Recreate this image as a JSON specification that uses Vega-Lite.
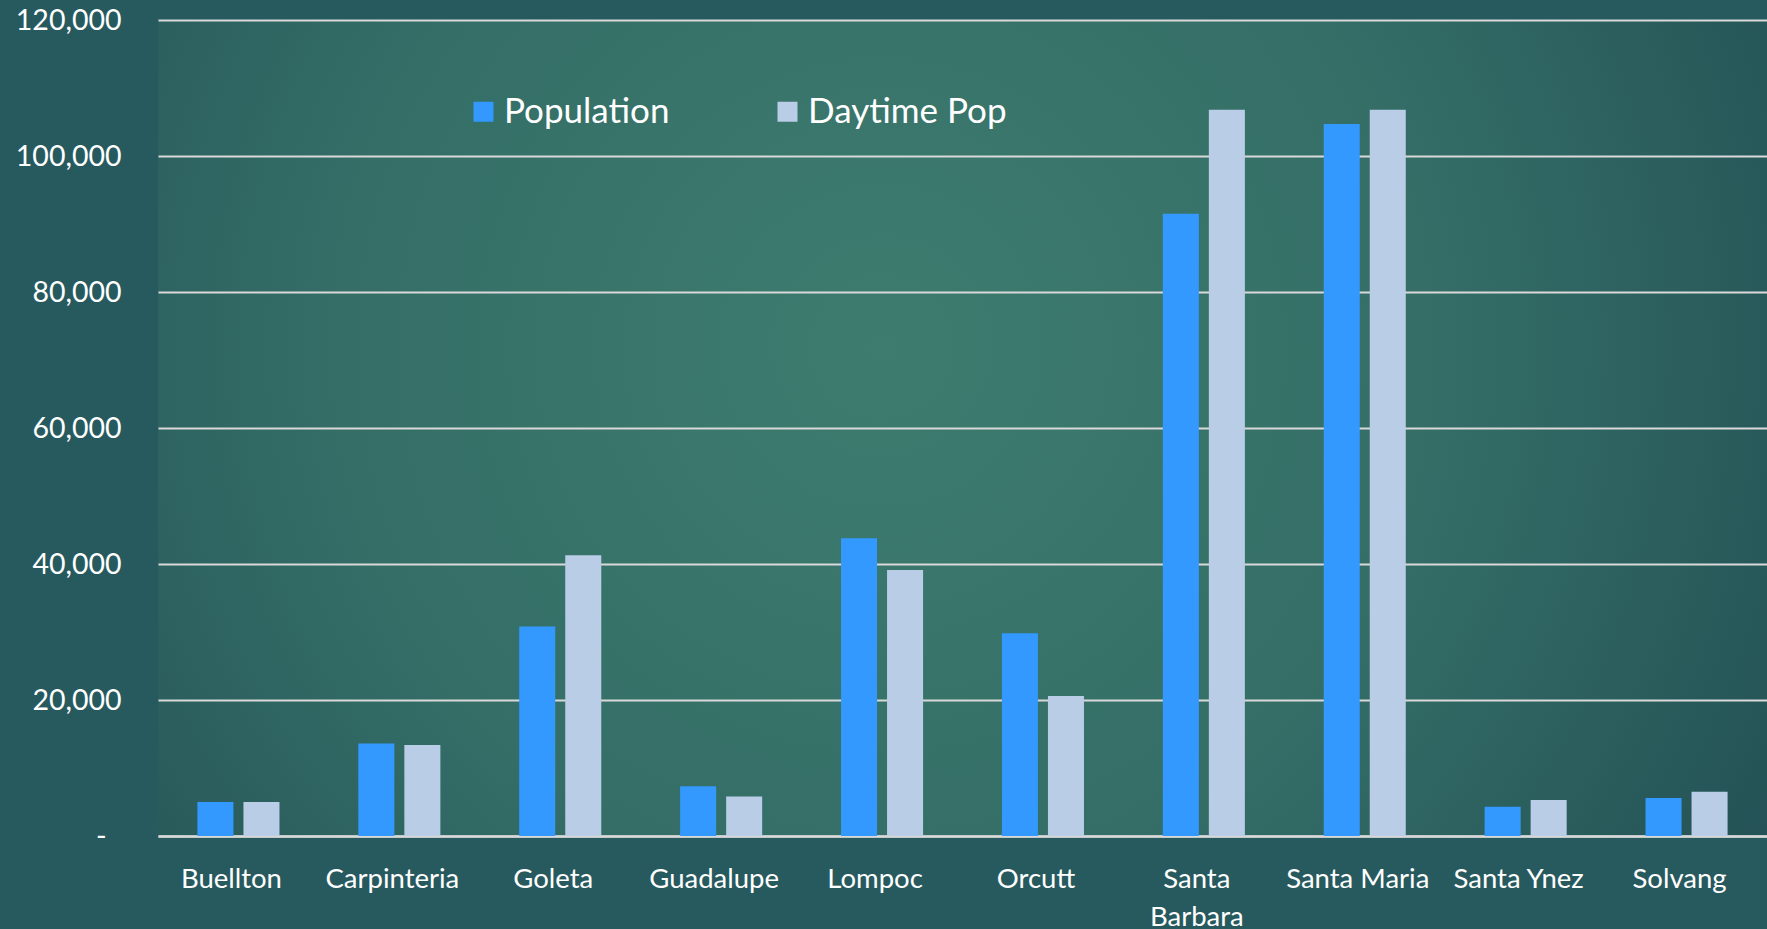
{
  "$schema": "https://vega.github.io/schema/vega-lite/v6.json",
  "width": 1609,
  "height": 816,
  "padding": {"left": 158, "top": 20, "right": 0, "bottom": 93},
  "autosize": {"type": "none"},
  "background": "#275a5e",
  "data": {
    "values": [
      {"city": "Buellton", "series": "Population", "value": 5000},
      {"city": "Buellton", "series": "Daytime Pop", "value": 5000},
      {"city": "Carpinteria", "series": "Population", "value": 13600},
      {"city": "Carpinteria", "series": "Daytime Pop", "value": 13400},
      {"city": "Goleta", "series": "Population", "value": 30800},
      {"city": "Goleta", "series": "Daytime Pop", "value": 41300},
      {"city": "Guadalupe", "series": "Population", "value": 7300},
      {"city": "Guadalupe", "series": "Daytime Pop", "value": 5800},
      {"city": "Lompoc", "series": "Population", "value": 43800},
      {"city": "Lompoc", "series": "Daytime Pop", "value": 39100},
      {"city": "Orcutt", "series": "Population", "value": 29800},
      {"city": "Orcutt", "series": "Daytime Pop", "value": 20600},
      {"city": "Santa Barbara", "series": "Population", "value": 91500},
      {"city": "Santa Barbara", "series": "Daytime Pop", "value": 106800},
      {"city": "Santa Maria", "series": "Population", "value": 104700},
      {"city": "Santa Maria", "series": "Daytime Pop", "value": 106800},
      {"city": "Santa Ynez", "series": "Population", "value": 4300},
      {"city": "Santa Ynez", "series": "Daytime Pop", "value": 5300},
      {"city": "Solvang", "series": "Population", "value": 5600},
      {"city": "Solvang", "series": "Daytime Pop", "value": 6500}
    ]
  },
  "mark": {"type": "bar"},
  "encoding": {
    "x": {
      "field": "city",
      "type": "nominal",
      "sort": null,
      "title": null,
      "scale": {"paddingInner": 0.49, "paddingOuter": 0.245},
      "axis": {
        "labelAngle": 0,
        "labelFontSize": 27.5,
        "labelPadding": 29,
        "labelLineHeight": 38,
        "labelOffset": -7,
        "labelLimit": 300,
        "labelExpr": "length(datum.label) > 12 ? split(datum.label, ' ') : datum.label",
        "ticks": false,
        "domainColor": "#d9d9d9",
        "domainWidth": 2.5,
        "grid": false
      }
    },
    "xOffset": {
      "field": "series",
      "type": "nominal",
      "sort": ["Population", "Daytime Pop"],
      "scale": {"paddingInner": 0.217, "paddingOuter": 0}
    },
    "y": {
      "field": "value",
      "type": "quantitative",
      "title": null,
      "scale": {"domain": [0, 120000], "nice": false},
      "axis": {
        "values": [0, 20000, 40000, 60000, 80000, 100000, 120000],
        "labelExpr": "datum.value == 0 ? '-' : format(datum.value, ',')",
        "labelFontSize": 28.5,
        "labelPadding": {"condition": {"test": "datum.value == 0", "value": 52}, "value": 37},
        "ticks": false,
        "domain": false,
        "gridColor": "#d9d9d9",
        "gridWidth": 2
      }
    },
    "color": {
      "field": "series",
      "type": "nominal",
      "sort": ["Population", "Daytime Pop"],
      "scale": {"domain": ["Population", "Daytime Pop"], "range": ["#3399ff", "#b9cde6"]},
      "legend": {
        "title": null,
        "orient": "none",
        "direction": "horizontal",
        "legendX": 308,
        "legendY": 74,
        "symbolType": "square",
        "symbolSize": 400,
        "symbolStrokeWidth": 0,
        "labelFontSize": 35,
        "labelOffset": 3,
        "labelLimit": 400,
        "columnPadding": 100
      }
    }
  },
  "config": {
    "font": "Lato",
    "view": {
      "stroke": null,
      "fill": {
        "gradient": "radial",
        "x1": 0.45, "y1": 0.45, "r1": 0,
        "x2": 0.45, "y2": 0.45, "r2": 0.68,
        "stops": [
          {"offset": 0, "color": "#3e7c6f"},
          {"offset": 0.5, "color": "#346e67"},
          {"offset": 1, "color": "#214d53"}
        ]
      }
    },
    "axis": {"labelColor": "#ffffff", "labelFont": "Lato"},
    "legend": {"labelColor": "#ffffff", "labelFont": "Lato"}
  }
}
